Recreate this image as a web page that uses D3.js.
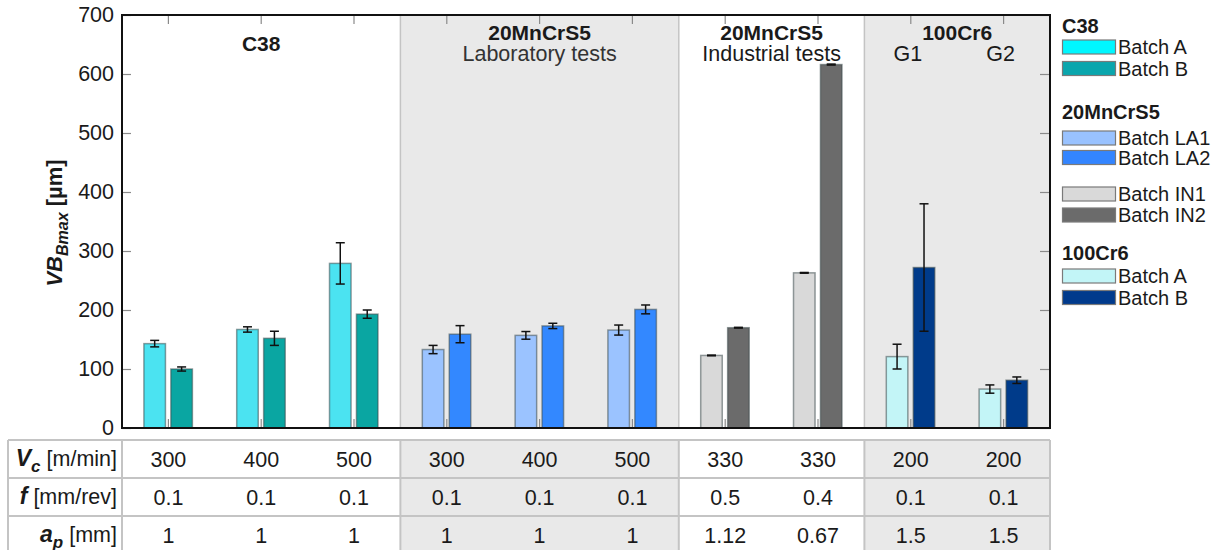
<!DOCTYPE html>
<html>
<head>
<meta charset="utf-8">
<script src="https://cdn.jsdelivr.net/npm/d3@7"></script>
<style>
  html, body { margin: 0; padding: 0; background: #fff; }
  svg { display: block; font-family: "Liberation Sans", Arial, sans-serif; }
</style>
</head>
<body>
<svg id="chart" width="1221" height="550"></svg>
<script>
// ---- data ----
const categories = ["C38-300", "C38-400", "C38-500", "LAB-300", "LAB-400", "LAB-500", "IND-330a", "IND-330b", "G1", "G2"];

// first bar of every pair (Batch A / LA1 / IN1 / Batch A)
const valuesFirst = [143, 167, 279, 133, 157, 166, 123, 263, 121, 66];
const errorsFirst = [5.5, 4.5, 35, 7, 6.5, 8.5, 0.6, 0.6, 21, 7];
// second bar of every pair (Batch B / LA2 / IN2 / Batch B)
const valuesSecond = [100, 152, 193, 159, 173, 201, 170, 616, 272, 81];
const errorsSecond = [3.5, 12, 7, 14.5, 4.5, 7.5, 0.6, 0.8, 108, 5.5];

const colorsFirst = ["#4be3f1", "#4be3f1", "#4be3f1", "#9bc3ff", "#9bc3ff", "#9bc3ff", "#d9d9d9", "#d9d9d9", "#c3f5f7", "#c3f5f7"];
const colorsSecond = ["#0aa6a2", "#0aa6a2", "#0aa6a2", "#3388ff", "#3388ff", "#3388ff", "#6b6b6b", "#6b6b6b", "#003b8a", "#003b8a"];

// material sections
const sectionTitles = ["C38", "20MnCrS5", "20MnCrS5", "100Cr6"];
const sectionSubtitles = ["", "Laboratory tests", "Industrial tests", ""];
const sectionFirst = [0, 3, 6, 8];
const sectionLast = [2, 5, 7, 9];
const sectionShaded = [false, true, false, true];
const subLabels = { 8: "G1", 9: "G2" };

// cutting parameters table
const vcValues = ["300", "400", "500", "300", "400", "500", "330", "330", "200", "200"];
const fValues = ["0.1", "0.1", "0.1", "0.1", "0.1", "0.1", "0.5", "0.4", "0.1", "0.1"];
const apValues = ["1", "1", "1", "1", "1", "1", "1.12", "0.67", "1.5", "1.5"];

const yTicks = [0, 100, 200, 300, 400, 500, 600, 700];

// legend
const legendTitles = ["C38", "20MnCrS5", "", "100Cr6"];
const legendLabels = [["Batch A", "Batch B"], ["Batch LA1", "Batch LA2"], ["Batch IN1", "Batch IN2"], ["Batch A", "Batch B"]];
const legendColors = [["#00f7ff", "#0aa6ad"], ["#99c2ff", "#3385ff"], ["#d9d9d9", "#6b6b6b"], ["#c2f5f7", "#003a8c"]];

// ---- layout ----
const svg = d3.select("#chart");
const plot = { left: 122, right: 1050, top: 15, bottom: 428 };
const shade = "#e9e9e9";
const gridGray = "#c4c4c4";
const textColor = "#1a1a1a";

const x = d3.scaleBand().domain(categories).range([plot.left, plot.right]).padding(0);
const sub = d3.scaleBand().domain([0, 1]).range([-24.5, 24]).paddingInner(0.2);
const y = d3.scaleLinear().domain([0, 700]).range([plot.bottom, plot.top]);
const center = c => x(c) + x.bandwidth() / 2;
const secLeft = i => x(categories[sectionFirst[i]]);
const secRight = i => x(categories[sectionLast[i]]) + x.bandwidth();

// shaded section backgrounds (plot)
sectionTitles.forEach((t, i) => {
  if (sectionShaded[i]) {
    svg.append("rect").attr("x", secLeft(i)).attr("y", plot.top)
      .attr("width", secRight(i) - secLeft(i)).attr("height", plot.bottom - plot.top)
      .attr("fill", shade);
  }
});
// section separators
sectionTitles.slice(1).forEach((t, k) => {
  const xx = secLeft(k + 1);
  svg.append("line").attr("x1", xx).attr("x2", xx).attr("y1", plot.top).attr("y2", plot.bottom)
    .attr("stroke", gridGray).attr("stroke-width", 1.5);
});

// inner ticks
const tickStyle = g => {
  g.select(".domain").remove();
  g.selectAll(".tick line").attr("stroke", "#8a8a8a").attr("stroke-width", 1.2);
};
svg.append("g").attr("transform", `translate(0,${plot.top})`)
  .call(d3.axisTop(x).tickSizeInner(-9).tickSizeOuter(0).tickFormat(""))
  .call(tickStyle);
svg.append("g").attr("transform", `translate(0,${plot.bottom})`)
  .call(d3.axisBottom(x).tickSizeInner(-9).tickSizeOuter(0).tickFormat(""))
  .call(tickStyle);
svg.append("g").attr("transform", `translate(${plot.right},0)`)
  .call(d3.axisRight(y).tickValues(yTicks).tickSizeInner(-10).tickSizeOuter(0).tickFormat(""))
  .call(tickStyle);
const yAxis = svg.append("g").attr("transform", `translate(${plot.left},0)`)
  .call(d3.axisLeft(y).tickValues(yTicks).tickSizeInner(-9).tickSizeOuter(0).tickPadding(8))
  .call(tickStyle);
yAxis.selectAll(".tick text").attr("font-size", 21.5).attr("fill", textColor)
  .attr("font-family", "Liberation Sans, Arial, sans-serif");

// bars
const series = [
  { values: valuesFirst, errors: errorsFirst, colors: colorsFirst, k: 0 },
  { values: valuesSecond, errors: errorsSecond, colors: colorsSecond, k: 1 }
];
series.forEach(s => {
  const g = svg.append("g");
  categories.forEach((c, i) => {
    const bx = center(c) + sub(s.k);
    g.append("rect")
      .attr("x", bx).attr("y", y(s.values[i]))
      .attr("width", sub.bandwidth()).attr("height", y(0) - y(s.values[i]))
      .attr("fill", s.colors[i])
      .attr("stroke", "#3f4f50").attr("stroke-opacity", 0.55).attr("stroke-width", 1.5);
  });
});
// error bars
series.forEach(s => {
  const g = svg.append("g").attr("stroke", "#111").attr("stroke-width", 1.5);
  categories.forEach((c, i) => {
    const cx = center(c) + sub(s.k) + sub.bandwidth() / 2;
    const hi = y(s.values[i] + s.errors[i]);
    const lo = y(s.values[i] - s.errors[i]);
    g.append("line").attr("x1", cx).attr("x2", cx).attr("y1", hi).attr("y2", lo);
    g.append("line").attr("x1", cx - 4.5).attr("x2", cx + 4.5).attr("y1", hi).attr("y2", hi);
    g.append("line").attr("x1", cx - 4.5).attr("x2", cx + 4.5).attr("y1", lo).attr("y2", lo);
  });
});

// plot frame
svg.append("rect").attr("x", plot.left).attr("y", plot.top)
  .attr("width", plot.right - plot.left).attr("height", plot.bottom - plot.top)
  .attr("fill", "none").attr("stroke", "#111").attr("stroke-width", 2);

// section titles
sectionTitles.forEach((t, i) => {
  const cx = (secLeft(i) + secRight(i)) / 2;
  const hasSub = sectionSubtitles[i] !== "" || i === 3;
  svg.append("text").attr("x", cx).attr("y", hasSub ? 40 : 50.5)
    .attr("text-anchor", "middle").attr("font-size", 21).attr("font-weight", "bold")
    .attr("fill", textColor).text(t);
  if (sectionSubtitles[i] !== "") {
    svg.append("text").attr("x", cx).attr("y", 61)
      .attr("text-anchor", "middle").attr("font-size", 21.5)
      .attr("fill", i === 1 ? "#333" : textColor).text(sectionSubtitles[i]);
  }
});
Object.keys(subLabels).forEach(k => {
  svg.append("text").attr("x", center(categories[+k]) - 3).attr("y", 61)
    .attr("text-anchor", "middle").attr("font-size", 21.5).attr("fill", textColor)
    .text(subLabels[k]);
});

// y axis title
const yt = svg.append("text")
  .attr("transform", "translate(62,223) rotate(-90)")
  .attr("text-anchor", "middle").attr("font-size", 22).attr("font-weight", "bold")
  .attr("fill", textColor);
yt.append("tspan").attr("font-style", "italic").text("VB");
yt.append("tspan").attr("font-style", "italic").attr("font-size", 16).attr("dy", 6).text("Bmax");
yt.append("tspan").attr("dy", -6).text(" [µm]");

// ---- parameter table ----
const table = { left: 8, top: 440, rowH: 38, rows: 3 };
const tableBottom = table.top + table.rowH * table.rows;
sectionTitles.forEach((t, i) => {
  if (sectionShaded[i]) {
    svg.append("rect").attr("x", secLeft(i)).attr("y", table.top)
      .attr("width", secRight(i) - secLeft(i)).attr("height", tableBottom - table.top)
      .attr("fill", shade);
  }
});
const tl = svg.append("g").attr("stroke", gridGray).attr("stroke-width", 2);
for (let r = 0; r <= table.rows; r++) {
  const yy = table.top + r * table.rowH;
  tl.append("line").attr("x1", table.left).attr("x2", plot.right).attr("y1", yy).attr("y2", yy);
}
[table.left, plot.left, secLeft(1), secLeft(2), secLeft(3), plot.right].forEach(xx => {
  tl.append("line").attr("x1", xx).attr("x2", xx).attr("y1", table.top).attr("y2", tableBottom);
});

const rowsData = [vcValues, fValues, apValues];
rowsData.forEach((vals, r) => {
  const base = table.top + r * table.rowH + 27;
  categories.forEach((c, i) => {
    svg.append("text").attr("x", center(c)).attr("y", base)
      .attr("text-anchor", "middle").attr("font-size", 21.5).attr("fill", textColor)
      .text(vals[i]);
  });
});

// row headers
const rowHeader = (r, sym, subscript, unit) => {
  const t = svg.append("text").attr("x", 117).attr("y", table.top + r * table.rowH + 26)
    .attr("text-anchor", "end").attr("font-size", 21.5).attr("fill", textColor);
  t.append("tspan").attr("font-weight", "bold").attr("font-style", "italic")
    .attr("font-size", 23).text(sym);
  if (subscript) {
    t.append("tspan").attr("font-weight", "bold").attr("font-style", "italic")
      .attr("font-size", 17).attr("dy", 6).text(subscript);
    t.append("tspan").attr("dy", -6).text(" " + unit);
  } else {
    t.append("tspan").text(" " + unit);
  }
};
rowHeader(0, "V", "c", "[m/min]");
rowHeader(1, "f", "", "[mm/rev]");
rowHeader(2, "a", "p", "[mm]");

// ---- legend ----
const lg = { x: 1062, swW: 53, swH: 14, textX: 1118 };
const titleY = [25, 111.5, null, 252.5];
const entryY = [[47, 68.5], [138, 157.5], [194, 215], [276, 297.5]];
legendTitles.forEach((t, gI) => {
  if (t) {
    svg.append("text").attr("x", lg.x).attr("y", titleY[gI] + 7.5)
      .attr("font-size", 20).attr("font-weight", "bold").attr("fill", textColor).text(t);
  }
  legendLabels[gI].forEach((lab, j) => {
    const cy = entryY[gI][j];
    svg.append("rect").attr("x", lg.x + 0.5).attr("y", cy - lg.swH / 2)
      .attr("width", lg.swW).attr("height", lg.swH)
      .attr("fill", legendColors[gI][j]).attr("stroke", "#7a7a7a").attr("stroke-width", 1.2);
    svg.append("text").attr("x", lg.textX).attr("y", cy + 7)
      .attr("font-size", 20).attr("fill", textColor).text(lab);
  });
});
</script>
</body>
</html>
